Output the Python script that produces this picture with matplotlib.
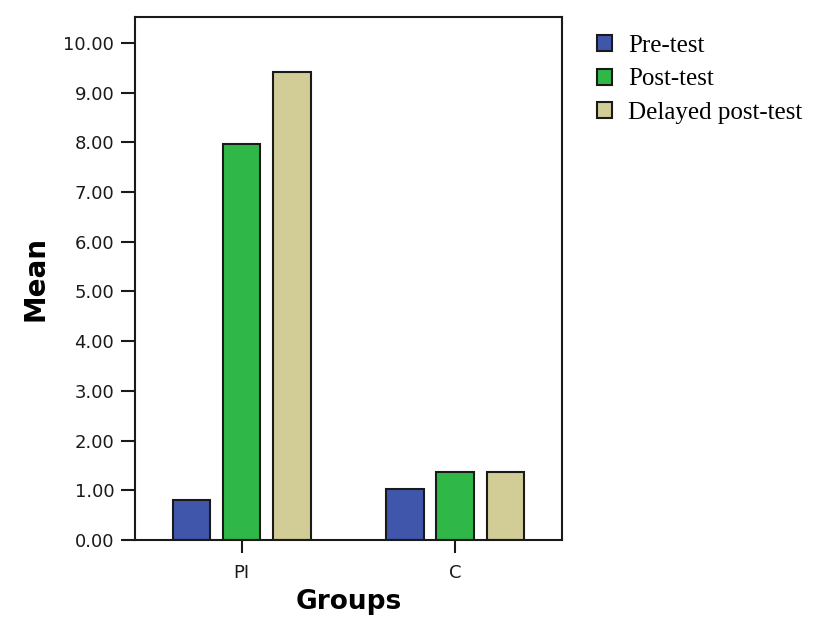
import numpy as np
import matplotlib.pyplot as plt
from matplotlib.patches import Patch
from matplotlib.ticker import FormatStrFormatter

groups = ['PI', 'C']
series = ['Pre-test', 'Post-test', 'Delayed post-test']
pre_test = [0.80, 1.02]
post_test = [7.97, 1.36]
delayed_post_test = [9.42, 1.36]
colors = ['#3f56aa', '#2fb848', '#d2cd96']

fig = plt.figure(figsize=(8.19, 6.19), dpi=100)
ax = fig.add_axes([0.165, 0.1276, 0.521, 0.845])

index = np.arange(len(groups))
bar_width = 0.175
offset = 0.235
for i, (vals, col) in enumerate(zip([pre_test, post_test, delayed_post_test], colors)):
    ax.bar(index + (i - 1) * offset, vals, bar_width, color=col,
           edgecolor='#1a1a1a', linewidth=1.5, label=series[i])

ax.set_xlim(-0.5, 1.5)
ax.set_ylim(0, 10.52)
ax.set_yticks(np.arange(0, 11, 1))
ax.yaxis.set_major_formatter(FormatStrFormatter('%.2f'))
ax.set_xticks(index)
ax.set_xticklabels(groups)

for s in ax.spines.values():
    s.set_linewidth(1.5)
    s.set_color('#1a1a1a')
ax.tick_params(direction='out', length=10, width=1.5, colors='#1a1a1a',
               labelsize=13, labelcolor='#1a1a1a')
ax.tick_params(axis='y', pad=5)
ax.tick_params(axis='x', length=9, pad=8)
for lab in ax.get_xticklabels() + ax.get_yticklabels():
    lab.set_family('DejaVu Sans')

ax.set_xlabel('Groups', fontsize=19, fontweight='bold', family='DejaVu Sans', labelpad=5)
ax.set_ylabel('Mean', fontsize=20, fontweight='bold', family='DejaVu Sans', labelpad=10)

handles = [Patch(facecolor=c, edgecolor='#1a1a1a', linewidth=1.5) for c in colors]
fig.legend(handles, series, loc='upper left', bbox_to_anchor=(0.729, 0.944),
           frameon=False, prop={'family': 'Liberation Serif', 'size': 18},
           borderpad=0, borderaxespad=0,
           handlelength=0.6, handleheight=0.6, handletextpad=0.64, labelspacing=0.47)

fig.savefig('out.png', dpi=100)
